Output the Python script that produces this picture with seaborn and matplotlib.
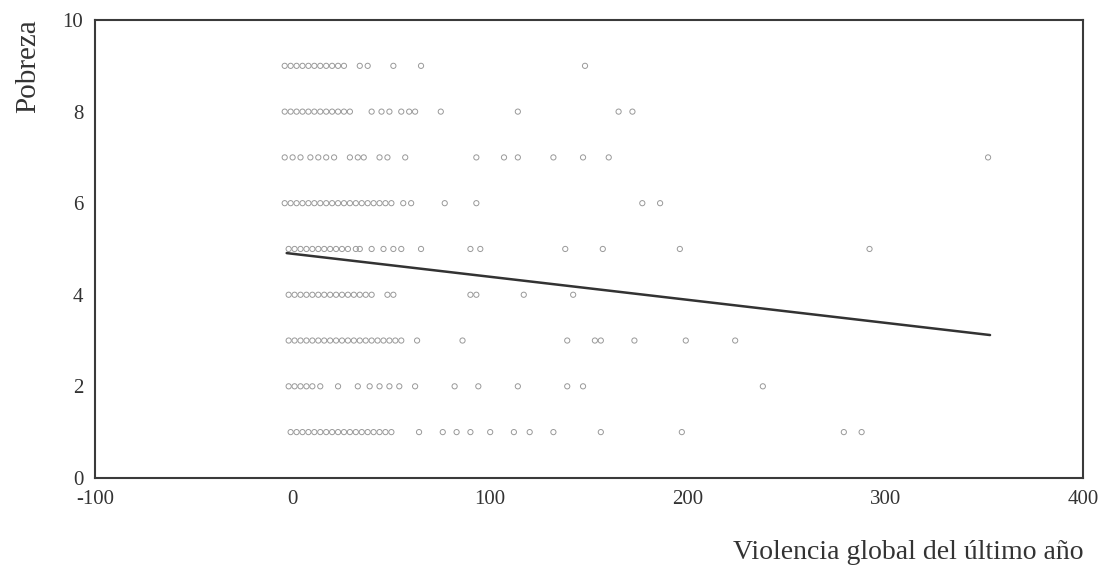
import matplotlib
matplotlib.use("Agg")
import matplotlib.pyplot as plt
import seaborn as sns
import pandas as pd

# values, one list per poverty level
pobreza_9 = [-4, -1, 2, 5, 8, 11, 14, 17, 20, 23, 26, 34, 38, 51, 65, 148]
pobreza_8 = [-4, -1, 2, 5, 8, 11, 14, 17, 20, 23, 26, 29, 40, 45, 49, 55, 59, 62, 75, 114, 165, 172]
pobreza_7 = [-4, 0, 4, 9, 13, 17, 21, 29, 33, 36, 44, 48, 57, 93, 107, 114, 132, 147, 160, 352]
pobreza_6 = [-4, -1, 2, 5, 8, 11, 14, 17, 20, 23, 26, 29, 32, 35, 38, 41, 44, 47, 50, 56, 60, 77, 93, 177, 186]
pobreza_5 = [-2, 1, 4, 7, 10, 13, 16, 19, 22, 25, 28, 32, 34, 40, 46, 51, 55, 65, 90, 95, 138, 157, 196, 292]
pobreza_4 = [-2, 1, 4, 7, 10, 13, 16, 19, 22, 25, 28, 31, 34, 37, 40, 48, 51, 90, 93, 117, 142]
pobreza_3 = [-2, 1, 4, 7, 10, 13, 16, 19, 22, 25, 28, 31, 34, 37, 40, 43, 46, 49, 52, 55,
             63, 86, 139, 153, 156, 173, 199, 224]
pobreza_2 = [-2, 1, 4, 7, 10, 14, 23, 33, 39, 44, 49, 54, 62, 82, 94, 114, 139, 147, 238]
pobreza_1 = [-1, 2, 5, 8, 11, 14, 17, 20, 23, 26, 29, 32, 35, 38, 41, 44, 47, 50,
             64, 76, 83, 90, 100, 112, 120, 132, 156, 197, 279, 288]

rows = {9: pobreza_9, 8: pobreza_8, 7: pobreza_7, 6: pobreza_6, 5: pobreza_5,
        4: pobreza_4, 3: pobreza_3, 2: pobreza_2, 1: pobreza_1}

# fitted line as drawn on the chart
fit_x = [-3, 353]
fit_y = [4.91, 3.12]

records = []
for level, xs in rows.items():
    for v in xs:
        records.append({"violencia": v, "pobreza": level})
df = pd.DataFrame(records)
fit = pd.DataFrame({"violencia": fit_x, "pobreza": fit_y})

sns.set_style("white")
plt.rcParams["font.family"] = ["Liberation Serif", "DejaVu Serif"]
plt.rcParams["axes.unicode_minus"] = False

fig = plt.figure(figsize=(11.05, 5.73), dpi=100)
ax = fig.add_axes([0.086, 0.166, 0.894, 0.799])

sns.scatterplot(data=df, x="violencia", y="pobreza", ax=ax, marker="o",
                s=14, facecolor="none", edgecolor="#999999", linewidth=0.7,
                legend=False)
sns.lineplot(data=fit, x="violencia", y="pobreza", ax=ax, color="#333333",
             linewidth=1.8)

ax.set_xlim(-100, 400)
ax.set_ylim(0, 10)
ax.set_xticks([-100, 0, 100, 200, 300, 400])
ax.set_yticks([0, 2, 4, 6, 8, 10])

for s in ax.spines.values():
    s.set_color("#3a3a3a")
    s.set_linewidth(1.5)

ax.tick_params(axis="both", direction="inout", length=5, width=3,
               color="#3a3a3a", labelsize=15, labelcolor="#333333", pad=6)

ax.set_xlabel("Violencia global del último año", fontsize=20, color="#333333")
ax.set_ylabel("Pobreza", fontsize=21, color="#333333")
ax.xaxis.set_label_coords(0.823, -0.135)
ax.yaxis.set_label_coords(-0.054, 0.90)

fig.savefig("out.png", dpi=100)
